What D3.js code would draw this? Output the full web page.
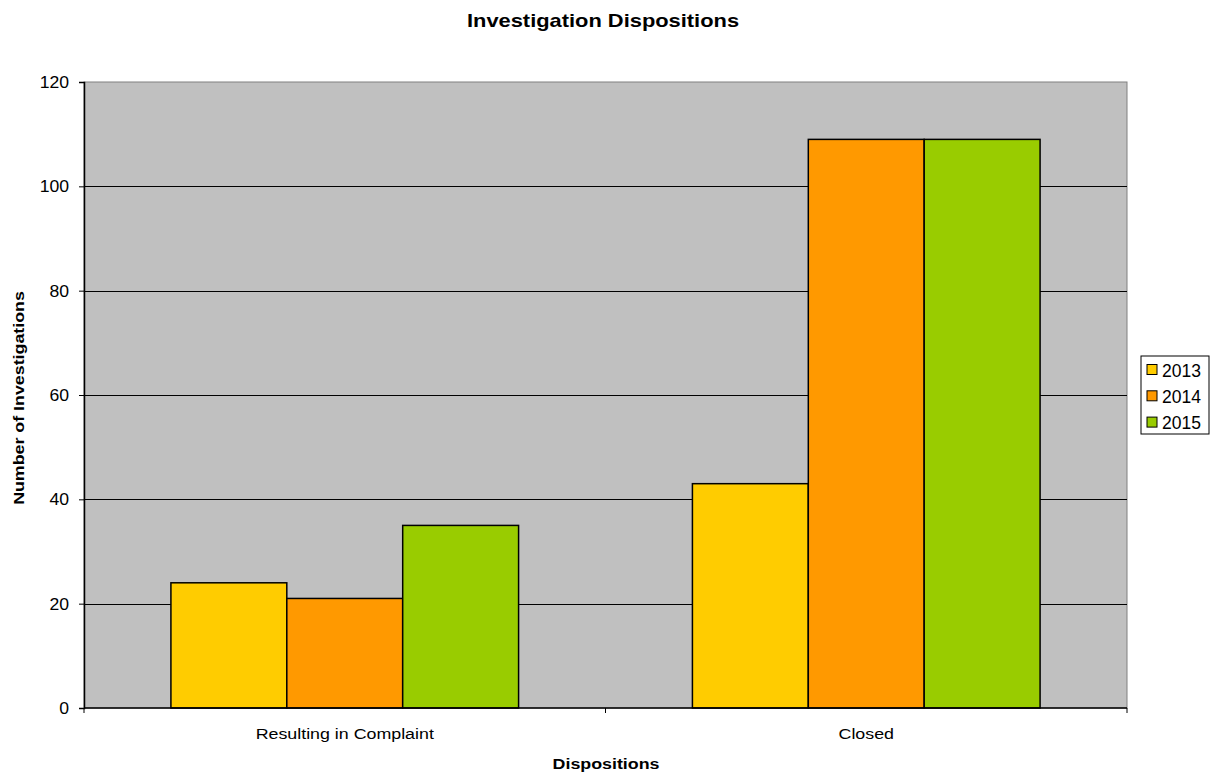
<!DOCTYPE html>
<html>
<head>
<meta charset="utf-8">
<script src="https://cdn.jsdelivr.net/npm/d3@7"></script>
<style>
  body { margin: 0; background: #fff; }
  svg { font-family: "Liberation Sans", Arial, sans-serif; }
</style>
</head>
<body>
<div id="chart"></div>
<script>
var categories = ["Resulting in Complaint", "Closed"];
var years = ["2013", "2014", "2015"];
var values2013 = [24, 43];
var values2014 = [21, 109];
var values2015 = [35, 109];
var colors = ["#ffcc00", "#ff9900", "#99cc00"];
var yTicks = [0, 20, 40, 60, 80, 100, 120];

var seriesValues = [values2013, values2014, values2015];

var width = 1210, height = 775;
var margin = {top: 82, right: 83, bottom: 67, left: 84};

var svg = d3.select("#chart").append("svg")
    .attr("width", width)
    .attr("height", height);

// text in the original is a bit wider than Liberation Sans, so stretch it a little
function label(x, y, txt, size, opts) {
  opts = opts || {};
  var g = svg.append("g")
      .attr("transform", "translate(" + x + "," + y + ")" +
            (opts.rotate ? " rotate(" + opts.rotate + ")" : "") +
            " scale(" + (opts.sx || 1) + ",1)");
  return g.append("text")
      .attr("text-anchor", opts.anchor || "middle")
      .attr("font-size", size)
      .attr("font-weight", opts.bold ? "bold" : "normal")
      .attr("fill", "#000")
      .text(txt);
}

var x0 = d3.scaleBand()
    .domain(categories)
    .range([margin.left, width - margin.right]);

var x1 = d3.scaleBand()
    .domain(years)
    .range([0, x0.bandwidth()])
    .paddingOuter(0.75);

var y = d3.scaleLinear()
    .domain([0, 120])
    .range([height - margin.bottom, margin.top]);

// plot background
svg.append("rect")
    .attr("x", margin.left)
    .attr("y", margin.top)
    .attr("width", width - margin.left - margin.right)
    .attr("height", height - margin.top - margin.bottom)
    .attr("fill", "#c0c0c0")
    .attr("stroke", "#808080")
    .attr("stroke-width", 1);

// gridlines
svg.append("g")
  .selectAll("line")
  .data(yTicks.slice(1, -1))
  .enter().append("line")
    .attr("x1", margin.left)
    .attr("x2", width - margin.right)
    .attr("y1", function(d) { return Math.round(y(d)) + 0.5; })
    .attr("y2", function(d) { return Math.round(y(d)) + 0.5; })
    .attr("stroke", "#000")
    .attr("stroke-width", 1);

// bars
var groups = svg.append("g")
  .selectAll("g")
  .data(categories)
  .enter().append("g")
    .attr("transform", function(d) { return "translate(" + x0(d) + ",0)"; });

groups.selectAll("rect")
  .data(function(d, i) {
    return years.map(function(yr, j) { return {year: yr, value: seriesValues[j][i], idx: j}; });
  })
  .enter().append("rect")
    .attr("x", function(d) { return x1(d.year); })
    .attr("y", function(d) { return y(d.value); })
    .attr("width", x1.bandwidth())
    .attr("height", function(d) { return y(0) - y(d.value); })
    .attr("fill", function(d) { return colors[d.idx]; })
    .attr("stroke", "#000")
    .attr("stroke-width", 1.5);

// y axis (line + ticks from d3, labels drawn separately)
var yAxis = svg.append("g")
    .attr("transform", "translate(" + margin.left + ",0)")
    .call(d3.axisLeft(y).tickValues(yTicks).tickSize(5).tickFormat(""));
yAxis.selectAll("line, path").attr("stroke", "#000");
yAxis.select("path").attr("stroke-width", 1.5);

yTicks.forEach(function(t) {
  label(margin.left - 15, y(t) + 6, t, 16, {anchor: "end", sx: 1.1});
});

// x axis
var xAxisScale = d3.scaleLinear().domain([0, categories.length])
    .range([margin.left, width - margin.right]);
var xAxis = svg.append("g")
    .attr("transform", "translate(0," + (height - margin.bottom) + ")");
xAxis.append("line")
    .attr("x1", margin.left).attr("x2", width - margin.right)
    .attr("stroke", "#000").attr("stroke-width", 1.5);
xAxis.selectAll(".tk")
  .data(d3.range(categories.length + 1))
  .enter().append("line")
    .attr("class", "tk")
    .attr("x1", function(d) { return xAxisScale(d); })
    .attr("x2", function(d) { return xAxisScale(d); })
    .attr("y1", 0).attr("y2", 5)
    .attr("stroke", "#000");

categories.forEach(function(c) {
  label(x0(c) + x0.bandwidth() / 2, 739, c, 15.5, {sx: 1.15});
});

// titles
label(603, 27, "Investigation Dispositions", 17.5, {bold: true, sx: 1.25});
label(606, 769, "Dispositions", 15.5, {bold: true, sx: 1.15});
label(24, 398, "Number of Investigations", 15.5, {bold: true, sx: 1.15, rotate: -90});

// legend
var legend = svg.append("g").attr("transform", "translate(1141,356)");
legend.append("rect")
    .attr("width", 68).attr("height", 78)
    .attr("fill", "#fff").attr("stroke", "#000");
var items = legend.selectAll(".item")
  .data(years)
  .enter().append("g")
    .attr("transform", function(d, i) { return "translate(6," + (20.5 + i * 26.3) + ")"; });
items.append("rect")
    .attr("x", 0).attr("y", -12)
    .attr("width", 10).attr("height", 10)
    .attr("fill", function(d, i) { return colors[i]; })
    .attr("stroke", "#000");
items.append("text")
    .attr("x", 15).attr("y", 0)
    .attr("font-size", 17.5)
    .text(function(d) { return d; });
</script>
</body>
</html>
